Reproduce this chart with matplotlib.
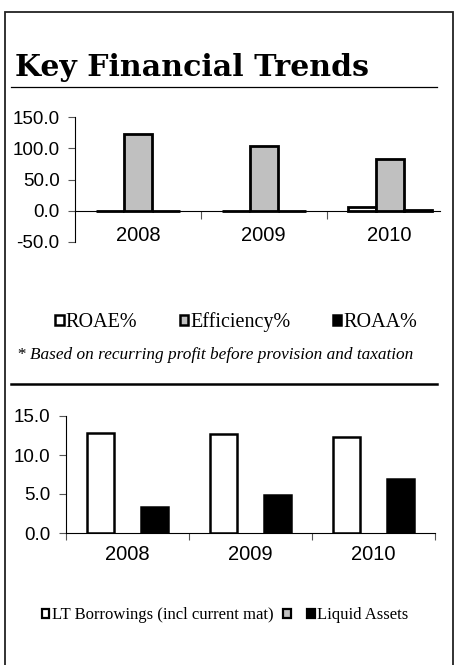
import numpy as np
import matplotlib
matplotlib.use("Agg")
import matplotlib.pyplot as plt
from matplotlib.patches import Rectangle
from matplotlib.lines import Line2D

# ---- data ----
years = ["2008", "2009", "2010"]
roae = [-0.8, -1.0, 5.5]
efficiency = [123.0, 104.0, 83.0]
roaa = [-0.5, -0.5, 0.6]
lt_borrowings = [12.8, 12.7, 12.3]
unnamed_series = [np.nan, np.nan, np.nan]
liquid_assets = [3.3, 4.9, 6.9]
yticks1 = [-50, 0, 50, 100, 150]
yticks2 = [0, 5, 10, 15]

W, H = 455, 665
fig = plt.figure(figsize=(W / 100, H / 100), dpi=100)
r = fig.canvas.get_renderer()

def fx(x):
    return x / W

def fy(y):
    return 1 - y / H

def fit_text(x, y, s, target_w, **kw):
    t = fig.text(fx(x), fy(y), s, **kw)
    w = t.get_window_extent(r).width
    t.set_fontsize(t.get_fontsize() * target_w / w)
    return t

# outer border
fig.add_artist(Rectangle((fx(5), fy(700)), fx(448), (700 - 12) / H,
                         transform=fig.transFigure, fill=False,
                         edgecolor="#222222", lw=1.3))

# title
fit_text(15, 76, "Key Financial Trends", 355, family="DejaVu Serif",
         weight="heavy", fontsize=26, va="baseline", ha="left", color="black")
fig.add_artist(Line2D([fx(11), fx(437)], [fy(87), fy(87)],
                      transform=fig.transFigure, color="black", lw=0.9))

ytick_font = dict(family="Liberation Sans", size=13.5)
xtick_font = dict(family="Liberation Sans", size=14.5)

# ---- chart 1 ----
ax1 = fig.add_axes([fx(75), fy(242), fx(440) - fx(75), fy(117) - fy(242)])
x = np.arange(len(years))
bw = 0.222
b_roae = ax1.bar(x - bw, roae, bw, color="white", edgecolor="black", lw=2.0, label="ROAE%")
b_eff = ax1.bar(x, efficiency, bw, color="#c0c0c0", edgecolor="black", lw=2.0, label="Efficiency%")
b_roaa = ax1.bar(x + bw, roaa, bw, color="black", edgecolor="black", lw=2.0, label="ROAA%")
ax1.set_ylim(-50, 150)
ax1.set_xlim(-0.5, 2.4)
ax1.set_yticks(yticks1)
ax1.set_yticklabels([f"{v:.1f}" for v in yticks1], **ytick_font)
ax1.spines["top"].set_visible(False)
ax1.spines["right"].set_visible(False)
ax1.spines["bottom"].set_position(("data", 0))
for s in ("left", "bottom"):
    ax1.spines[s].set_linewidth(0.8)
ax1.set_xticks([0.5, 1.5])
ax1.set_xticklabels([])
ax1.set_xticks(x, minor=True)
ax1.set_xticklabels(years, minor=True, **xtick_font)
ax1.tick_params(axis="x", which="minor", length=0, pad=11)
ax1.tick_params(axis="x", which="major", length=6, width=0.8, color="#555555")
ax1.tick_params(axis="y", length=5, width=0.8, pad=6, color="#555555")

leg1 = fig.legend([b_roae, b_eff, b_roaa], ["ROAE%", "Efficiency%", "ROAA%"],
                  loc="center", bbox_to_anchor=(fx(236), fy(322)), ncol=3,
                  frameon=False, prop=dict(family="Liberation Serif", size=14.5),
                  handlelength=0.42, handleheight=0.42, handletextpad=0.1,
                  columnspacing=2.1, borderpad=0, borderaxespad=0)
for h in leg1.legend_handles:
    h.set_linewidth(1.8)

fit_text(17, 359, "* Based on recurring profit before provision and taxation", 396,
         family="Liberation Serif", style="italic", fontsize=14,
         va="baseline", ha="left", color="black")
fig.add_artist(Line2D([fx(11), fx(437)], [fy(384), fy(384)],
                      transform=fig.transFigure, color="black", lw=1.8))

# ---- chart 2 ----
ax2 = fig.add_axes([fx(66), fy(533), fx(435) - fx(66), fy(416) - fy(533)])
bw2 = 0.22
b_lt = ax2.bar(x - bw2, lt_borrowings, bw2, color="white", edgecolor="black", lw=1.8)
b_un = ax2.bar(x, unnamed_series, bw2, color="#c0c0c0", edgecolor="black", lw=1.8)
b_liq = ax2.bar(x + bw2, liquid_assets, bw2, color="black", edgecolor="black", lw=1.8)
ax2.set_ylim(0, 15)
ax2.set_xlim(-0.5, 2.5)
ax2.set_yticks(yticks2)
ax2.set_yticklabels([f"{v:.1f}" for v in yticks2], **ytick_font)
ax2.spines["top"].set_visible(False)
ax2.spines["right"].set_visible(False)
for s in ("left", "bottom"):
    ax2.spines[s].set_linewidth(0.8)
ax2.set_xticks([-0.5, 0.5, 1.5, 2.5])
ax2.set_xticklabels([])
ax2.set_xticks(x, minor=True)
ax2.set_xticklabels(years, minor=True, **xtick_font)
ax2.tick_params(axis="x", which="minor", length=0, pad=9)
ax2.tick_params(axis="x", which="major", length=5, width=0.8, color="#555555")
ax2.tick_params(axis="y", length=5, width=0.8, pad=6, color="#555555")

leg2 = fig.legend([b_lt, b_un, b_liq], ["LT Borrowings (incl current mat)", " ", "Liquid Assets"],
                  loc="center", bbox_to_anchor=(fx(225), fy(615)), ncol=3,
                  frameon=False, prop=dict(family="Liberation Serif", size=12),
                  handlelength=0.45, handleheight=0.45, handletextpad=0.15,
                  columnspacing=0.6, borderpad=0, borderaxespad=0)
for h in leg2.legend_handles:
    h.set_linewidth(1.6)

fig.savefig("out.png", dpi=100)
